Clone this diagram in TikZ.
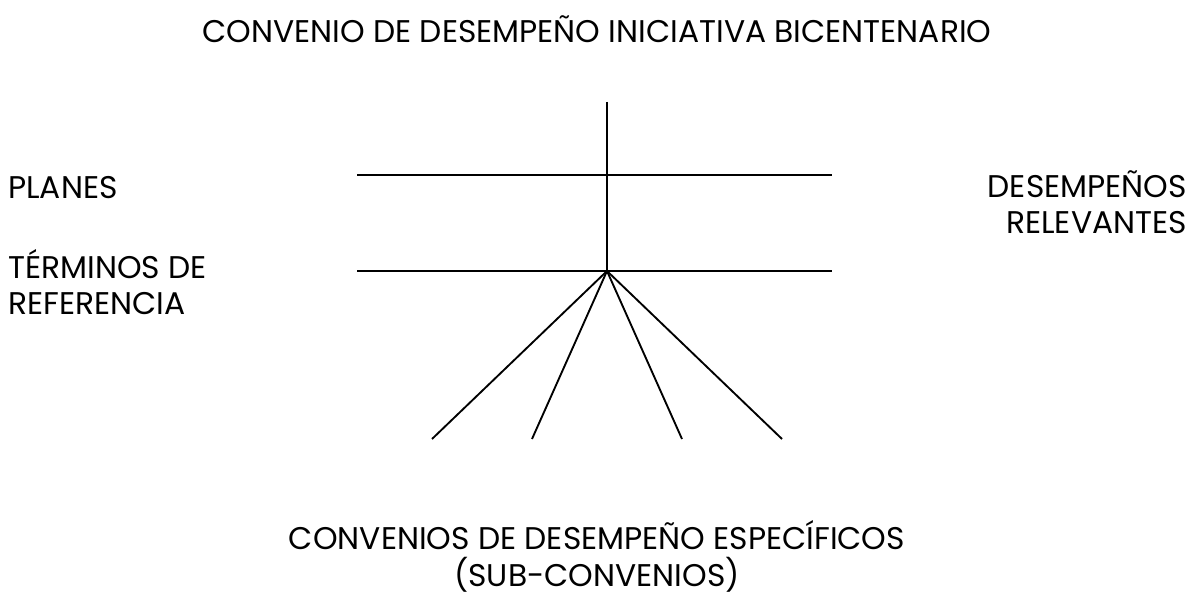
\documentclass[tikz,border=0pt]{standalone}
\usepackage{fontspec}
\setmainfont{Poppins}
\begin{document}
\begin{tikzpicture}[x=0.75pt,y=-0.75pt,
  lbl/.style={inner sep=0pt,font=\fontsize{23.5}{27.5}\selectfont},
  ln/.style={line width=1.4pt,black}]
\useasboundingbox (0,0) rectangle (1192,595);
% title
\node[lbl,anchor=base] (title) at (597,43) {CONVENIO DE DESEMPEÑO INICIATIVA BICENTENARIO};
% side labels (base anchor = baseline of the last line)
\node[lbl,anchor=base west] (planes) at (8,199) {PLANES};
\node[lbl,anchor=base west,align=left] (terminos) at (8,315) {TÉRMINOS DE\\REFERENCIA};
\node[lbl,anchor=base east,align=right] (desemp) at (1187,234) {DESEMPEÑOS\\RELEVANTES};
\node[lbl,anchor=base,align=center] (conv) at (597,586) {CONVENIOS DE DESEMPEÑO ESPECÍFICOS\\(SUB-CONVENIOS)};
% lines
\coordinate (top) at (607,102);
\coordinate (hub) at (607,271);
\coordinate (h1l) at (357,175);
\coordinate (h1r) at (832,175);
\coordinate (h2l) at (357,271);
\coordinate (h2r) at (832,271);
\coordinate (d1) at (432,439);
\coordinate (d2) at (532,439);
\coordinate (d3) at (682,439);
\coordinate (d4) at (782,439);
\draw[ln] (top) -- (hub);
\draw[ln] (h1l) -- (h1r);
\draw[ln] (h2l) -- (h2r);
\draw[ln] (hub) -- (d1);
\draw[ln] (hub) -- (d2);
\draw[ln] (hub) -- (d3);
\draw[ln] (hub) -- (d4);
\end{tikzpicture}
\end{document}
